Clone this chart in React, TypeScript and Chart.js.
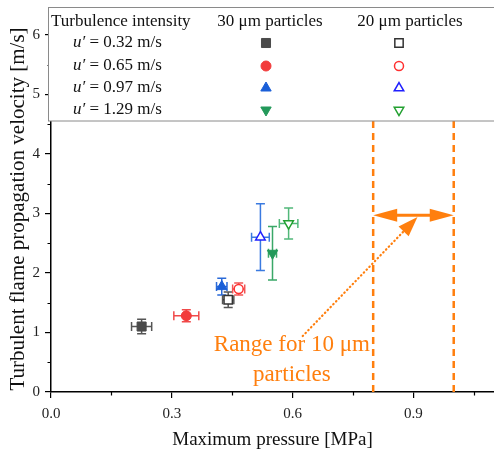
import React, { useEffect, useRef } from 'react';
import { Chart, registerables } from 'chart.js';

Chart.register(...registerables);

// ---------- data ----------
const intensities = ['0.32', '0.65', '0.97', '1.29'];
const p30 = [0.225, 0.336, 0.424, 0.55];
const v30 = [1.1, 1.28, 1.77, 2.33];
const p30Err = [0.025, 0.031, 0.013, 0.01];
const v30Err = [0.12, 0.1, 0.14, 0.45];
const p20 = [0.44, 0.466, 0.52, 0.59];
const v20 = [1.55, 1.73, 2.6, 2.83];
const p20Err = [0.014, 0.015, 0.022, 0.023];
const v20Err = [0.13, 0.1, 0.56, 0.26];
const xMinorTicks = [0.15, 0.45, 0.75, 1.05];
const yMinorTicks = [0.5, 1.5, 2.5, 3.5, 4.5, 5.5];
const rangeBounds = [0.8, 1.0];
const rangeArrowY = 2.97;
const pointerFrom = [0.625, 0.94];
const pointerTo = [0.91, 2.94];
const rangeText = ['Range for 10 μm', 'particles'];
const rangeTextPos = [0.598, 0.79, 0.29];

// ---------- styles ----------
const SERIF = "'Liberation Serif', 'Times New Roman', serif";
const ORANGE = '#ff7f0e';
const fill30 = ['#4a4a4a', '#f23b3b', '#1a5fd8', '#23995a'];
const line20 = ['#333333', '#ff3030', '#2020ff', '#22a030'];
const err30 = ['#555555', '#f04a4a', '#2a6ad8', '#3aa868'];
const err20 = ['#555555', '#f05555', '#3a7ae0', '#52b87a'];
const shapes = ['rect', 'circle', 'triangle', 'triangle'];
const rots = [0, 0, 0, 180];
const radii = [6.4, 5, 6, 6];

function drawMarker(ctx: CanvasRenderingContext2D, shape: string, rot: number, x: number, y: number, r: number, fill: string | null, stroke: string, lw: number) {
  ctx.save();
  ctx.beginPath();
  if (shape === 'rect') {
    const s = Math.SQRT1_2 * r;
    ctx.rect(x - s, y - s, 2 * s, 2 * s);
  } else if (shape === 'circle') {
    ctx.arc(x, y, r, 0, Math.PI * 2);
  } else {
    let rad = (rot * Math.PI) / 180;
    ctx.moveTo(x + Math.sin(rad) * r, y - Math.cos(rad) * r);
    rad += (2 * Math.PI) / 3;
    ctx.lineTo(x + Math.sin(rad) * r, y - Math.cos(rad) * r);
    rad += (2 * Math.PI) / 3;
    ctx.lineTo(x + Math.sin(rad) * r, y - Math.cos(rad) * r);
    ctx.closePath();
  }
  if (fill) {
    ctx.fillStyle = fill;
    ctx.fill();
  }
  ctx.strokeStyle = stroke;
  ctx.lineWidth = lw;
  ctx.stroke();
  ctx.restore();
}

const errorBarPlugin = {
  id: 'errorBars',
  beforeDatasetsDraw(chart: any) {
    const { ctx, scales } = chart;
    const xs = scales.x;
    const ys = scales.y;
    const groups = [
      { px: p30, py: v30, ex: p30Err, ey: v30Err, col: err30 },
      { px: p20, py: v20, ex: p20Err, ey: v20Err, col: err20 },
    ];
    ctx.save();
    ctx.lineWidth = 1.5;
    groups.forEach((g) => {
      g.px.forEach((xv, i) => {
        const cx = xs.getPixelForValue(xv);
        const cy = ys.getPixelForValue(g.py[i]);
        const x1 = xs.getPixelForValue(xv - g.ex[i]);
        const x2 = xs.getPixelForValue(xv + g.ex[i]);
        const y1 = ys.getPixelForValue(g.py[i] + g.ey[i]);
        const y2 = ys.getPixelForValue(g.py[i] - g.ey[i]);
        const cap = 4.5;
        ctx.strokeStyle = g.col[i];
        ctx.beginPath();
        ctx.moveTo(x1, cy); ctx.lineTo(x2, cy);
        ctx.moveTo(x1, cy - cap); ctx.lineTo(x1, cy + cap);
        ctx.moveTo(x2, cy - cap); ctx.lineTo(x2, cy + cap);
        ctx.moveTo(cx, y1); ctx.lineTo(cx, y2);
        ctx.moveTo(cx - cap, y1); ctx.lineTo(cx + cap, y1);
        ctx.moveTo(cx - cap, y2); ctx.lineTo(cx + cap, y2);
        ctx.stroke();
      });
    });
    // minor ticks
    ctx.strokeStyle = '#000';
    ctx.lineWidth = 1.2;
    const ca = chart.chartArea;
    ctx.beginPath();
    xMinorTicks.forEach((v) => {
      const px = Math.round(xs.getPixelForValue(v)) + 0.5;
      ctx.moveTo(px, ca.bottom);
      ctx.lineTo(px, ca.bottom + 3.5);
    });
    yMinorTicks.forEach((v) => {
      const py = Math.round(ys.getPixelForValue(v)) + 0.5;
      ctx.moveTo(ca.left, py);
      ctx.lineTo(ca.left - 3.5, py);
    });
    ctx.stroke();
    // dashed range lines
    ctx.strokeStyle = ORANGE;
    ctx.lineWidth = 2.5;
    ctx.setLineDash([7, 5]);
    rangeBounds.forEach((v) => {
      const px = xs.getPixelForValue(v);
      ctx.beginPath();
      ctx.moveTo(px, ca.bottom);
      ctx.lineTo(px, ca.top);
      ctx.stroke();
    });
    ctx.setLineDash([]);
    ctx.restore();
  },
};

function arrowHead(ctx: CanvasRenderingContext2D, tx: number, ty: number, fx: number, fy: number, len: number, half: number) {
  const a = Math.atan2(ty - fy, tx - fx);
  const bx = tx - Math.cos(a) * len;
  const by = ty - Math.sin(a) * len;
  ctx.beginPath();
  ctx.moveTo(tx, ty);
  ctx.lineTo(bx + Math.sin(a) * half, by - Math.cos(a) * half);
  ctx.lineTo(bx - Math.sin(a) * half, by + Math.cos(a) * half);
  ctx.closePath();
  ctx.fill();
  return [bx, by];
}

const annotationPlugin = {
  id: 'annotations',
  afterDatasetsDraw(chart: any) {
    const { ctx, scales } = chart;
    const xs = scales.x;
    const ys = scales.y;
    ctx.save();
    ctx.fillStyle = ORANGE;
    ctx.strokeStyle = ORANGE;
    // double arrow
    const ax1 = xs.getPixelForValue(rangeBounds[0]);
    const ax2 = xs.getPixelForValue(rangeBounds[1]);
    const ay = ys.getPixelForValue(rangeArrowY);
    ctx.lineWidth = 3;
    ctx.beginPath();
    ctx.moveTo(ax1 + 20, ay);
    ctx.lineTo(ax2 - 20, ay);
    ctx.stroke();
    arrowHead(ctx, ax1, ay, ax2, ay, 24, 6.5);
    arrowHead(ctx, ax2, ay, ax1, ay, 24, 6.5);
    // dotted pointer
    const sx = xs.getPixelForValue(pointerFrom[0]);
    const sy = ys.getPixelForValue(pointerFrom[1]);
    const tx = xs.getPixelForValue(pointerTo[0]);
    const ty = ys.getPixelForValue(pointerTo[1]);
    const [bx, by] = arrowHead(ctx, tx, ty, sx, sy, 20, 7);
    ctx.lineWidth = 2.2;
    ctx.lineCap = 'round';
    ctx.setLineDash([0.5, 3.5]);
    ctx.beginPath();
    ctx.moveTo(sx, sy);
    ctx.lineTo(bx, by);
    ctx.stroke();
    ctx.setLineDash([]);
    // text
    ctx.font = `23px ${SERIF}`;
    ctx.textAlign = 'center';
    ctx.textBaseline = 'middle';
    const tcx = xs.getPixelForValue(rangeTextPos[0]);
    ctx.fillText(rangeText[0], tcx, ys.getPixelForValue(rangeTextPos[1]));
    ctx.fillText(rangeText[1], tcx, ys.getPixelForValue(rangeTextPos[2]));
    ctx.restore();
  },
  afterDraw(chart: any) {
    const { ctx, chartArea } = chart;
    ctx.save();
    // legend box
    ctx.fillStyle = '#ffffff';
    ctx.fillRect(48, 7, 460, 114);
    ctx.strokeStyle = '#8a8a8a';
    ctx.lineWidth = 1;
    ctx.strokeRect(48.5, 7.5, 460, 113.5);
    ctx.fillStyle = '#111';
    ctx.textBaseline = 'middle';
    ctx.font = `17px ${SERIF}`;
    ctx.textAlign = 'left';
    ctx.fillText('Turbulence intensity', 51, 22);
    ctx.textAlign = 'center';
    ctx.fillText('30 μm particles', 270, 22);
    ctx.fillText('20 μm particles', 410, 22);
    const rowsY = [43, 66, 88, 110];
    intensities.forEach((val, i) => {
      ctx.textAlign = 'left';
      ctx.font = `italic 17px ${SERIF}`;
      ctx.fillText('u′', 73, rowsY[i]);
      const w = ctx.measureText('u′').width;
      ctx.font = `17px ${SERIF}`;
      ctx.fillText(` = ${val} m/s`, 73 + w, rowsY[i]);
      drawMarker(ctx, shapes[i], rots[i], 266, rowsY[i], radii[i], fill30[i], fill30[i], 1);
      drawMarker(ctx, shapes[i], rots[i], 399, rowsY[i], radii[i] - 0.5, '#ffffff', line20[i], 1.5);
    });
    // axis titles
    ctx.fillStyle = '#111';
    ctx.font = `19px ${SERIF}`;
    ctx.textAlign = 'center';
    ctx.fillText('Maximum pressure [MPa]', (chartArea.left + chartArea.right) / 2, 440);
    ctx.translate(18, 209);
    ctx.rotate(-Math.PI / 2);
    ctx.font = `21px ${SERIF}`;
    ctx.fillText('Turbulent flame propagation velocity [m/s]', 0, 0);
    ctx.restore();
  },
};

export default function App() {
  const ref = useRef<HTMLCanvasElement>(null);
  useEffect(() => {
    document.body.style.margin = '0';
    const canvas = ref.current!;
    const datasets: any[] = [];
    intensities.forEach((val, i) => {
      datasets.push({
        label: `30 μm, u' = ${val} m/s`,
        data: [{ x: p30[i], y: v30[i] }],
        pointStyle: shapes[i],
        pointRotation: rots[i],
        pointRadius: radii[i],
        backgroundColor: fill30[i],
        borderColor: fill30[i],
        borderWidth: 1,
      });
      datasets.push({
        label: `20 μm, u' = ${val} m/s`,
        data: [{ x: p20[i], y: v20[i] }],
        pointStyle: shapes[i],
        pointRotation: rots[i],
        pointRadius: radii[i] - 0.5,
        backgroundColor: '#ffffff',
        borderColor: line20[i],
        borderWidth: 1.5,
      });
    });
    const tickFont = { family: SERIF, size: 15 };
    const chart = new Chart(canvas, {
      type: 'scatter',
      data: { datasets },
      options: {
        responsive: false,
        animation: false,
        devicePixelRatio: 1,
        layout: { autoPadding: false, padding: { top: 8, right: 0, left: 0, bottom: 0 } },
        plugins: { legend: { display: false }, tooltip: { enabled: false } },
        scales: {
          x: {
            type: 'linear',
            min: 0,
            max: 1.1,
            ticks: {
              stepSize: 0.3,
              includeBounds: false,
              font: tickFont,
              color: '#222',
              padding: 7,
              callback: (v: any) => Number(v).toFixed(1),
            },
            grid: { display: true, drawOnChartArea: false, drawTicks: true, tickLength: 6, color: '#000', lineWidth: 1.2 },
            border: { display: true, color: '#000', width: 1.5 },
            afterFit: (s: any) => {
              s.height = 63;
              s.paddingLeft = 0;
              s.paddingRight = 0;
            },
          },
          y: {
            type: 'linear',
            min: 0,
            max: 6.45,
            ticks: {
              stepSize: 1,
              includeBounds: false,
              font: tickFont,
              color: '#222',
              padding: 5,
              callback: (v: any) => String(v),
            },
            grid: { display: true, drawOnChartArea: false, drawTicks: true, tickLength: 6, color: '#000', lineWidth: 1.2 },
            border: { display: true, color: '#000', width: 1.5 },
            afterFit: (s: any) => {
              s.width = 51;
              s.paddingTop = 0;
              s.paddingBottom = 0;
            },
          },
        },
      },
      plugins: [errorBarPlugin, annotationPlugin],
    } as any);
    return () => chart.destroy();
  }, []);
  return <canvas ref={ref} width={494} height={455} style={{ display: 'block' }} />;
}
